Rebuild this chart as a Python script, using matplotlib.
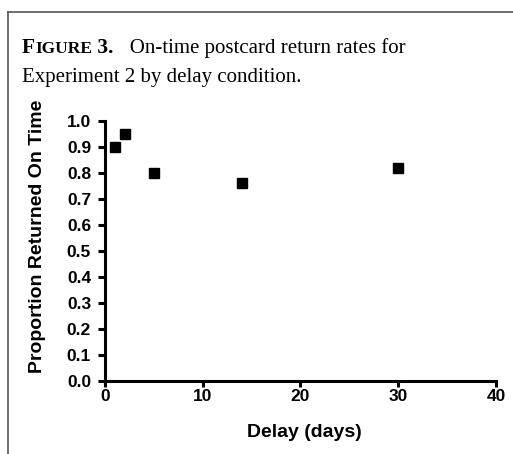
import matplotlib
matplotlib.use("Agg")
import matplotlib.pyplot as plt
from matplotlib.lines import Line2D

# data
delay_days = [1, 2, 5, 14, 30]
prop_on_time = [0.90, 0.95, 0.80, 0.76, 0.82]

x_ticks = [0, 10, 20, 30, 40]
y_ticks = [0.0, 0.1, 0.2, 0.3, 0.4, 0.5, 0.6, 0.7, 0.8, 0.9, 1.0]

fig = plt.figure(figsize=(5.13, 4.54), dpi=100)
ax = fig.add_axes([0.2047, 0.1608, 0.762, 0.5727])

ax.plot(delay_days, prop_on_time, "s", color="black", markersize=7.8, clip_on=False)

ax.set_xlim(0, 40)
ax.set_ylim(0, 1.0)
ax.set_xticks(x_ticks)
ax.set_yticks(y_ticks)
ax.set_xticklabels([str(t) for t in x_ticks])
ax.set_yticklabels([f"{t:.1f}" for t in y_ticks])

for s in ["top", "right"]:
    ax.spines[s].set_visible(False)
for s in ["left", "bottom"]:
    ax.spines[s].set_linewidth(2.2)
ax.tick_params(axis="x", width=2.2, length=4.5, labelsize=12.5, pad=1.5)
ax.tick_params(axis="y", width=2.2, length=5, labelsize=12.5, pad=5)
for lab in ax.get_xticklabels() + ax.get_yticklabels():
    lab.set_fontweight("bold")
    lab.set_fontfamily("Liberation Sans")

ax.set_xlabel("Delay (days)", fontsize=14, fontweight="bold", family="Liberation Sans")
ax.set_ylabel("Proportion Returned On Time", fontsize=14, fontweight="bold", family="Liberation Sans")
ax.xaxis.set_label_coords(0.511, -0.165)
ax.yaxis.set_label_coords(-0.152, 0.558)

# frame around the figure box (top and left edges visible)
fig.add_artist(Line2D([8 / 513, 1.0], [1 - 11.5 / 454, 1 - 11.5 / 454], color="#555555", lw=1.2))
fig.add_artist(Line2D([8 / 513, 8 / 513], [0.0, 1 - 11.5 / 454], color="#555555", lw=1.2))

# caption with small caps "FIGURE 3."
serif = "Liberation Serif"
fig.canvas.draw()
r = fig.canvas.get_renderer()
y1 = 1 - 53 / 454
x = 22 / 513
parts = [("F", 15.5, "bold"), ("IGURE", 12.5, "bold"), (" 3.", 15.5, "bold"),
         ("   On-time postcard return rates for", 15, "normal")]
for txt, size, weight in parts:
    t = fig.text(x, y1, txt, fontsize=size, fontweight=weight, family=serif, va="baseline")
    bb = t.get_window_extent(renderer=r)
    x += bb.width / fig.bbox.width
fig.text(22 / 513, 1 - 82 / 454, "Experiment 2 by delay condition.", fontsize=15,
         family=serif, va="baseline")

fig.savefig("out.png", dpi=100)
